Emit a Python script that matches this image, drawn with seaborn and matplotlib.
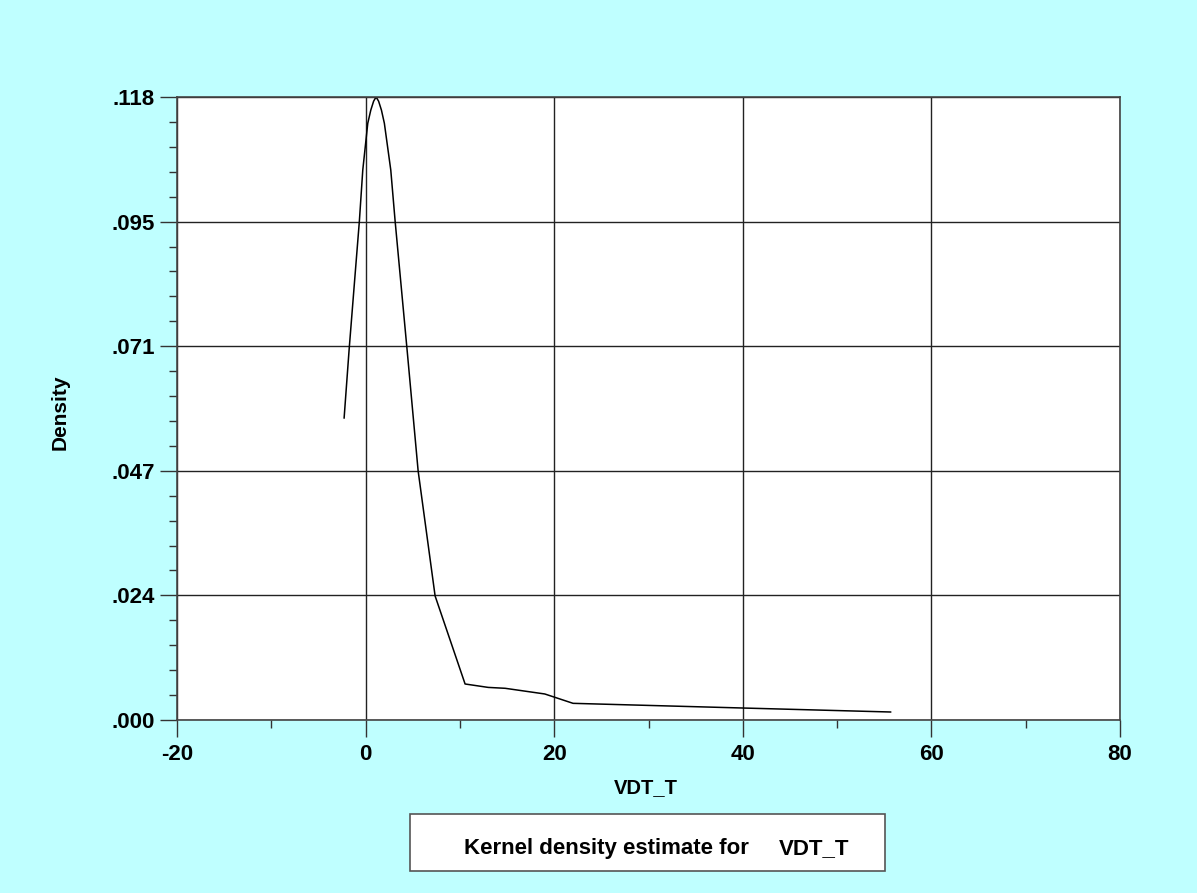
import numpy as np
import pandas as pd
import matplotlib
matplotlib.use('Agg')
import matplotlib.pyplot as plt
import seaborn as sns
from matplotlib.patches import Rectangle
from matplotlib.ticker import MultipleLocator

# kernel density estimate
vdt_t = [-2.28, -1.75, -1.2, -0.66, -0.30, 0.23, 0.55, 0.85, 1.11, 1.38, 1.68, 1.99,
         2.67, 3.13, 4.4, 5.57, 7.37, 10.55, 13.0, 14.8, 19.0, 22.0, 40.0, 55.7]
density = [0.0574, 0.0704, 0.0828, 0.0949, 0.1046, 0.1135, 0.1160, 0.1177, 0.1185,
           0.1177, 0.1160, 0.1135, 0.1046, 0.0949, 0.0704, 0.0474, 0.0236, 0.00685,
           0.0062, 0.00603, 0.00495, 0.00317, 0.00228, 0.00152]

ymax = 0.1185
ytick_labels = ['.000', '.024', '.047', '.071', '.095', '.118']
xticks = [-20, 0, 20, 40, 60, 80]

df = pd.DataFrame({'VDT_T': vdt_t, 'Density': density})

sns.set_style('ticks')
plt.rcParams['font.family'] = ['Liberation Sans', 'DejaVu Sans']
plt.rcParams['font.weight'] = 'bold'
plt.rcParams['text.color'] = 'black'
plt.rcParams['xtick.labelcolor'] = 'black'
plt.rcParams['ytick.labelcolor'] = 'black'
plt.rcParams['axes.labelcolor'] = 'black'

bg = '#bfffff'
fig = plt.figure(figsize=(11.97, 8.93), dpi=100, facecolor=bg)
ax = fig.add_axes([177 / 1197, 1 - 720 / 893, (1120 - 177) / 1197, (720 - 97) / 893])
ax.set_facecolor('white')

sns.lineplot(data=df, x='VDT_T', y='Density', color='black', lw=1.1, ax=ax)

ax.set_xlim(-20, 80)
ax.set_ylim(0, ymax)
ax.set_xticks(xticks)
ax.set_xticklabels([str(v) for v in xticks], fontsize=16, fontweight='bold')
ax.set_yticks(np.linspace(0, ymax, 6))
ax.set_yticklabels(ytick_labels, fontsize=16, fontweight='bold')
ax.xaxis.set_minor_locator(MultipleLocator(10))
ax.yaxis.set_minor_locator(MultipleLocator(ymax / 25))
ax.tick_params(which='major', direction='out', length=12, width=1, color='#333333', pad=4)
ax.tick_params(axis='x', which='major', pad=5)
ax.tick_params(which='minor', direction='out', length=6, width=1, color='#333333')
ax.grid(True, which='major', color='#222222', lw=1)

for s in ax.spines.values():
    s.set_color('#444444')
    s.set_linewidth(1.2)

ax.set_xlabel('VDT_T', fontsize=14.5, fontweight='bold', va='center')
ax.xaxis.set_label_coords(0.497, (720 - 788) / 623)
ax.set_ylabel('Density', fontsize=15, fontweight='bold', va='center')
ax.yaxis.set_label_coords((60 - 177) / 943, 0.494)

# legend box
fig.patches.append(Rectangle((410 / 1197, 1 - 871 / 893), 475 / 1197, 57 / 893,
                             transform=fig.transFigure, facecolor='white',
                             edgecolor='#555555', lw=1.2))
fig.text(464 / 1197, 1 - 854 / 893, 'Kernel density estimate for',
         fontsize=16, fontweight='bold', va='baseline', ha='left')
fig.text(779 / 1197, 1 - 854 / 893, 'VDT_T',
         fontsize=16, fontweight='bold', va='baseline', ha='left')

fig.savefig('out.png', dpi=100, facecolor=bg)
